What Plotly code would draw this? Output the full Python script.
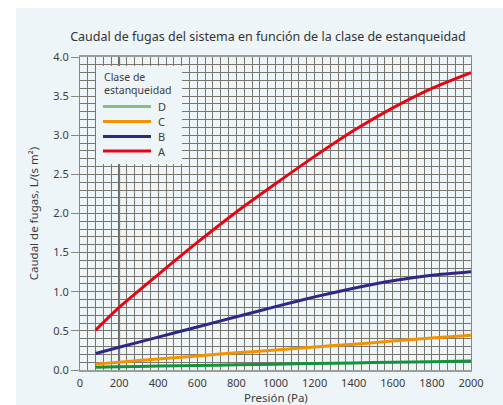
import plotly.graph_objects as go

# Pressure (Pa) at which the leakage flow is tabulated
pressure = [80, 200, 400, 600, 800, 1000, 1200, 1400, 1600, 1800, 2000]

# Leakage flow, L/(s m²), for each airtightness class
flow_a = [0.51, 0.80, 1.22, 1.63, 2.02, 2.38, 2.73, 3.06, 3.35, 3.60, 3.80]
flow_b = [0.21, 0.29, 0.42, 0.55, 0.68, 0.81, 0.935, 1.045, 1.14, 1.21, 1.255]
flow_c = [0.075, 0.10, 0.14, 0.18, 0.22, 0.255, 0.295, 0.33, 0.37, 0.41, 0.445]
flow_d = [0.035, 0.04, 0.05, 0.057, 0.066, 0.075, 0.083, 0.091, 0.099, 0.107, 0.115]

classes = ["D", "C", "B", "A"]
series = {"A": flow_a, "B": flow_b, "C": flow_c, "D": flow_d}
line_colors = {"A": "#e30613", "B": "#2f2784", "C": "#f39200", "D": "#14913b"}
key_colors = {"A": "#e30613", "B": "#2f2784", "C": "#f39200", "D": "#86c07f"}

x_ticks = [0, 200, 400, 600, 800, 1000, 1200, 1400, 1600, 1800, 2000]
y_ticks = [0.0, 0.5, 1.0, 1.5, 2.0, 2.5, 3.0, 3.5, 4.0]
reference_pressure = 200

W, H = 503, 405
L, R, T, B = 80, 32, 57, 35
PW, PH = W - L - R, H - T - B
BG = "#eef5f8"
GRID = "#7a766e"
TEXT = "#3c3c3c"
FONT = "Noto Sans"


def px(xp):
    return (xp - L) / PW


def py(yp):
    return (H - B - yp) / PH


fig = go.Figure()
for k in ["A", "B", "C", "D"]:
    fig.add_trace(go.Scatter(
        x=pressure, y=series[k], mode="lines", name=k,
        line=dict(color=line_colors[k], width=3, shape="spline", smoothing=0.6),
        showlegend=False, hoverinfo="skip",
    ))

shapes = [
    # tinted page panel
    dict(type="rect", xref="paper", yref="paper", x0=px(16), x1=px(W + 2),
         y0=py(H + 2), y1=py(8), fillcolor=BG, line_width=0, layer="below"),
    # heavier line at the reference pressure
    dict(type="line", xref="x", yref="paper", x0=reference_pressure,
         x1=reference_pressure, y0=0, y1=1, line=dict(color="#5f5b53", width=2),
         layer="below"),
    # key box
    dict(type="rect", xref="paper", yref="paper", x0=px(96), x1=px(182),
         y0=py(164), y1=py(66), fillcolor=BG, line_width=0, layer="above"),
]
annotations = []
for text, yr in [("Clase de", 77), ("estanqueidad", 90)]:
    annotations.append(dict(text=text, xref="paper", yref="paper",
                            x=px(102), y=py(yr), xanchor="left", yanchor="middle",
                            showarrow=False, font=dict(family=FONT, size=10.5, color=TEXT)))
key_rows = [106.5, 121.5, 136.5, 151]
for k, yr in zip(classes, key_rows):
    shapes.append(dict(type="line", xref="paper", yref="paper", x0=px(103), x1=px(151),
                       y0=py(yr), y1=py(yr), line=dict(color=key_colors[k], width=3),
                       layer="above"))
    annotations.append(dict(text=k, xref="paper", yref="paper", x=px(156), y=py(yr),
                            xanchor="left", yanchor="middle", showarrow=False,
                            font=dict(family=FONT, size=11, color=TEXT)))

# x-axis title placed just under the tick labels
annotations.append(dict(text="Presión (Pa)", xref="paper", yref="paper",
                        x=0.5, y=py(397.5), xanchor="center", yanchor="middle",
                        showarrow=False, font=dict(family=FONT, size=11.5, color=TEXT)))

fig.update_layout(
    width=W, height=H,
    margin=dict(l=L, r=R, t=T, b=B, pad=0),
    paper_bgcolor="white", plot_bgcolor="rgba(0,0,0,0)",
    font=dict(family=FONT, size=11, color=TEXT),
    title=dict(text="Caudal de fugas del sistema en función de la clase de estanqueidad",
               x=268 / W, xanchor="center", y=1 - 37 / H, yanchor="middle",
               font=dict(family=FONT, size=12.5, color="#333333")),
    shapes=shapes, annotations=annotations,
    showlegend=False,
)
fig.update_xaxes(
    range=[0, 2000], tickvals=x_ticks, ticktext=[str(v) for v in x_ticks],
    ticks="outside", ticklen=2, tickcolor="rgba(0,0,0,0)", automargin=False,
    showgrid=True, gridcolor=GRID, gridwidth=1.1,
    minor=dict(dtick=40, tick0=0, showgrid=True, gridcolor=GRID, gridwidth=1.1),
    zeroline=False, showline=True, linecolor="#9d9c96", linewidth=2, mirror=True,
    tickfont=dict(size=11, color=TEXT),
)
fig.update_yaxes(
    range=[0, 4.0], tickvals=y_ticks, ticktext=[f"{v:.1f}" for v in y_ticks],
    ticks="outside", ticklen=8, tickcolor="#8a877f", tickwidth=1, automargin=False,
    showgrid=True, gridcolor=GRID, gridwidth=1.1,
    minor=dict(dtick=0.1, tick0=0, showgrid=True, gridcolor=GRID, gridwidth=1.1),
    zeroline=False, showline=True, linecolor="#8a877f", linewidth=1.2, mirror=True,
    title=dict(text="Caudal de fugas, L/(s m²)", standoff=12, font=dict(size=11.5, color=TEXT)),
    tickfont=dict(size=11, color=TEXT),
)

fig.write_html("out.html")
